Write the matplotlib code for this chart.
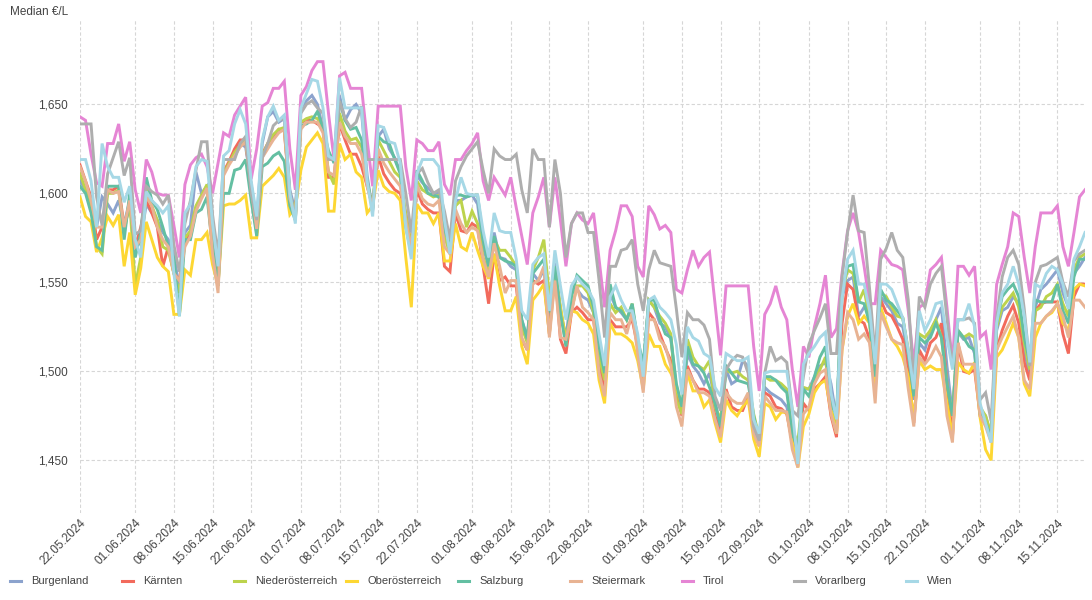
import numpy as np
import pandas as pd
import matplotlib
matplotlib.use("Agg")
import matplotlib.pyplot as plt
import matplotlib.dates as mdates
from matplotlib.lines import Line2D
from matplotlib.ticker import FuncFormatter

plt.rcParams['font.family'] = ['Liberation Sans', 'DejaVu Sans']

# daily median price per state, 22.05.2024 - 20.11.2024
dates = pd.date_range("2024-05-22", "2024-11-20", freq="D")

burgenland = [
    1.607, 1.602, 1.594, 1.581, 1.598, 1.594, 1.589, 1.596, 1.583, 1.596,
    1.568, 1.574, 1.594, 1.589, 1.585, 1.578, 1.574, 1.566, 1.546, 1.578,
    1.582, 1.612, 1.600, 1.604, 1.572, 1.552, 1.612, 1.617, 1.622, 1.628,
    1.626, 1.605, 1.585, 1.628, 1.643, 1.646, 1.640, 1.642, 1.602, 1.590,
    1.648, 1.652, 1.655, 1.650, 1.636, 1.620, 1.619, 1.655, 1.641, 1.647,
    1.650, 1.645, 1.610, 1.590, 1.632, 1.636, 1.625, 1.620, 1.612, 1.585,
    1.568, 1.610, 1.606, 1.603, 1.600, 1.600, 1.579, 1.570, 1.596, 1.596,
    1.598, 1.599, 1.594, 1.570, 1.559, 1.578, 1.564, 1.563, 1.559, 1.557,
    1.529, 1.519, 1.555, 1.551, 1.557, 1.529, 1.561, 1.534, 1.519, 1.544,
    1.546, 1.542, 1.540, 1.533, 1.510, 1.495, 1.544, 1.536, 1.533, 1.529,
    1.536, 1.516, 1.499, 1.540, 1.536, 1.527, 1.525, 1.518, 1.491, 1.476,
    1.510, 1.503, 1.499, 1.493, 1.499, 1.484, 1.467, 1.501, 1.493, 1.495,
    1.506, 1.503, 1.469, 1.460, 1.491, 1.488, 1.486, 1.484, 1.480, 1.465,
    1.452, 1.490, 1.490, 1.497, 1.503, 1.505, 1.493, 1.473, 1.542, 1.551,
    1.553, 1.531, 1.536, 1.533, 1.493, 1.542, 1.538, 1.534, 1.527, 1.525,
    1.508, 1.484, 1.516, 1.512, 1.523, 1.529, 1.536, 1.503, 1.476, 1.522,
    1.518, 1.519, 1.510, 1.478, 1.475, 1.463, 1.523, 1.534, 1.536, 1.542,
    1.538, 1.512, 1.497, 1.536, 1.546, 1.549, 1.553, 1.557, 1.544, 1.536,
    1.555, 1.559, 1.564]

kaernten = [
    1.616, 1.607, 1.598, 1.574, 1.581, 1.602, 1.602, 1.604, 1.581, 1.593,
    1.570, 1.581, 1.596, 1.589, 1.581, 1.559, 1.570, 1.555, 1.551, 1.572,
    1.578, 1.592, 1.598, 1.604, 1.568, 1.550, 1.612, 1.618, 1.625, 1.630,
    1.630, 1.600, 1.578, 1.622, 1.628, 1.632, 1.636, 1.635, 1.598, 1.588,
    1.640, 1.641, 1.641, 1.639, 1.637, 1.609, 1.609, 1.639, 1.630, 1.622,
    1.622, 1.615, 1.604, 1.593, 1.621, 1.611, 1.606, 1.602, 1.600, 1.589,
    1.570, 1.602, 1.594, 1.591, 1.589, 1.589, 1.559, 1.556, 1.589, 1.579,
    1.578, 1.583, 1.581, 1.559, 1.538, 1.566, 1.551, 1.553, 1.548, 1.548,
    1.518, 1.512, 1.551, 1.549, 1.551, 1.521, 1.557, 1.518, 1.510, 1.533,
    1.536, 1.533, 1.529, 1.529, 1.504, 1.490, 1.529, 1.525, 1.525, 1.525,
    1.529, 1.514, 1.495, 1.533, 1.529, 1.521, 1.513, 1.506, 1.488, 1.475,
    1.503, 1.495, 1.490, 1.490, 1.488, 1.475, 1.465, 1.490, 1.480, 1.478,
    1.478, 1.486, 1.467, 1.458, 1.488, 1.486, 1.480, 1.479, 1.476, 1.460,
    1.452, 1.482, 1.478, 1.490, 1.493, 1.497, 1.475, 1.463, 1.527, 1.549,
    1.546, 1.529, 1.527, 1.518, 1.488, 1.540, 1.533, 1.531, 1.525, 1.518,
    1.500, 1.471, 1.512, 1.506, 1.516, 1.519, 1.527, 1.493, 1.463, 1.516,
    1.500, 1.499, 1.501, 1.475, 1.471, 1.461, 1.512, 1.523, 1.531, 1.537,
    1.527, 1.505, 1.495, 1.534, 1.538, 1.539, 1.539, 1.539, 1.521, 1.510,
    1.542, 1.549, 1.549]

niederoesterreich = [
    1.611, 1.602, 1.593, 1.570, 1.566, 1.600, 1.600, 1.602, 1.578, 1.596,
    1.548, 1.564, 1.604, 1.593, 1.585, 1.570, 1.568, 1.555, 1.544, 1.575,
    1.579, 1.593, 1.599, 1.605, 1.569, 1.548, 1.611, 1.617, 1.623, 1.627,
    1.630, 1.604, 1.580, 1.621, 1.628, 1.633, 1.636, 1.637, 1.599, 1.588,
    1.640, 1.642, 1.643, 1.642, 1.637, 1.612, 1.605, 1.645, 1.635, 1.630,
    1.631, 1.626, 1.606, 1.592, 1.630, 1.624, 1.618, 1.612, 1.609, 1.588,
    1.570, 1.607, 1.602, 1.600, 1.598, 1.599, 1.576, 1.566, 1.593, 1.596,
    1.581, 1.590, 1.583, 1.564, 1.555, 1.574, 1.568, 1.568, 1.564, 1.559,
    1.525, 1.516, 1.557, 1.564, 1.574, 1.542, 1.559, 1.536, 1.518, 1.534,
    1.548, 1.548, 1.544, 1.533, 1.508, 1.495, 1.538, 1.533, 1.536, 1.529,
    1.538, 1.514, 1.499, 1.540, 1.536, 1.531, 1.527, 1.521, 1.484, 1.476,
    1.518, 1.508, 1.503, 1.501, 1.506, 1.480, 1.473, 1.501, 1.499, 1.500,
    1.497, 1.495, 1.476, 1.463, 1.497, 1.495, 1.495, 1.493, 1.490, 1.467,
    1.460, 1.491, 1.490, 1.495, 1.501, 1.508, 1.478, 1.471, 1.544, 1.557,
    1.555, 1.539, 1.546, 1.529, 1.495, 1.544, 1.542, 1.536, 1.531, 1.530,
    1.512, 1.486, 1.521, 1.519, 1.523, 1.529, 1.519, 1.493, 1.475, 1.523,
    1.519, 1.521, 1.519, 1.480, 1.475, 1.465, 1.525, 1.536, 1.540, 1.544,
    1.536, 1.516, 1.501, 1.534, 1.536, 1.542, 1.544, 1.549, 1.538, 1.531,
    1.557, 1.564, 1.566]

oberoesterreich = [
    1.598, 1.587, 1.584, 1.567, 1.575, 1.587, 1.582, 1.588, 1.559, 1.578,
    1.543, 1.558, 1.584, 1.574, 1.564, 1.559, 1.556, 1.532, 1.532, 1.557,
    1.554, 1.574, 1.574, 1.578, 1.560, 1.548, 1.593, 1.594, 1.594, 1.596,
    1.599, 1.575, 1.575, 1.604, 1.607, 1.610, 1.614, 1.609, 1.588, 1.592,
    1.613, 1.626, 1.630, 1.634, 1.628, 1.590, 1.590, 1.628, 1.619, 1.622,
    1.612, 1.609, 1.589, 1.593, 1.613, 1.604, 1.601, 1.600, 1.596, 1.564,
    1.536, 1.594, 1.589, 1.589, 1.583, 1.589, 1.562, 1.562, 1.583, 1.570,
    1.568, 1.578, 1.568, 1.559, 1.552, 1.566, 1.548, 1.534, 1.534, 1.542,
    1.514, 1.504, 1.540, 1.544, 1.549, 1.521, 1.553, 1.536, 1.515, 1.534,
    1.533, 1.529, 1.527, 1.521, 1.495, 1.482, 1.527, 1.521, 1.521, 1.519,
    1.516, 1.506, 1.490, 1.521, 1.514, 1.514, 1.504, 1.499, 1.492, 1.480,
    1.499, 1.489, 1.489, 1.480, 1.484, 1.471, 1.460, 1.484, 1.478, 1.475,
    1.480, 1.484, 1.462, 1.452, 1.482, 1.480, 1.473, 1.477, 1.477, 1.460,
    1.446, 1.469, 1.476, 1.488, 1.493, 1.495, 1.478, 1.465, 1.512, 1.531,
    1.538, 1.527, 1.531, 1.527, 1.493, 1.536, 1.527, 1.518, 1.514, 1.508,
    1.497, 1.473, 1.506, 1.501, 1.503, 1.501, 1.501, 1.482, 1.464, 1.505,
    1.501, 1.499, 1.505, 1.474, 1.456, 1.450, 1.508, 1.512, 1.519, 1.527,
    1.519, 1.493, 1.486, 1.519, 1.527, 1.531, 1.533, 1.538, 1.527, 1.523,
    1.546, 1.549, 1.548]

salzburg = [
    1.604, 1.600, 1.589, 1.570, 1.568, 1.604, 1.604, 1.604, 1.574, 1.600,
    1.564, 1.578, 1.609, 1.596, 1.591, 1.581, 1.570, 1.564, 1.531, 1.574,
    1.574, 1.589, 1.591, 1.598, 1.570, 1.548, 1.600, 1.600, 1.613, 1.614,
    1.619, 1.596, 1.576, 1.615, 1.617, 1.621, 1.623, 1.618, 1.593, 1.585,
    1.638, 1.639, 1.641, 1.646, 1.637, 1.624, 1.617, 1.652, 1.641, 1.636,
    1.637, 1.630, 1.607, 1.591, 1.632, 1.629, 1.628, 1.619, 1.611, 1.581,
    1.566, 1.613, 1.607, 1.600, 1.599, 1.598, 1.579, 1.572, 1.599, 1.599,
    1.598, 1.599, 1.599, 1.574, 1.559, 1.576, 1.564, 1.562, 1.561, 1.559,
    1.529, 1.518, 1.555, 1.559, 1.563, 1.533, 1.559, 1.533, 1.514, 1.542,
    1.554, 1.551, 1.548, 1.536, 1.514, 1.499, 1.549, 1.536, 1.534, 1.529,
    1.538, 1.518, 1.504, 1.540, 1.540, 1.529, 1.521, 1.519, 1.493, 1.480,
    1.514, 1.504, 1.503, 1.499, 1.491, 1.482, 1.469, 1.503, 1.499, 1.495,
    1.494, 1.493, 1.475, 1.461, 1.497, 1.497, 1.495, 1.491, 1.488, 1.465,
    1.456, 1.490, 1.486, 1.497, 1.508, 1.514, 1.482, 1.475, 1.546, 1.559,
    1.560, 1.539, 1.538, 1.527, 1.497, 1.546, 1.540, 1.538, 1.534, 1.530,
    1.510, 1.486, 1.519, 1.516, 1.519, 1.527, 1.519, 1.493, 1.475, 1.523,
    1.519, 1.514, 1.512, 1.476, 1.471, 1.463, 1.527, 1.542, 1.546, 1.549,
    1.542, 1.519, 1.505, 1.540, 1.539, 1.539, 1.539, 1.549, 1.534, 1.527,
    1.553, 1.563, 1.563]

steiermark = [
    1.615, 1.607, 1.596, 1.581, 1.581, 1.602, 1.600, 1.601, 1.581, 1.596,
    1.570, 1.574, 1.598, 1.593, 1.581, 1.574, 1.570, 1.555, 1.551, 1.570,
    1.576, 1.590, 1.597, 1.603, 1.566, 1.544, 1.610, 1.616, 1.621, 1.626,
    1.629, 1.603, 1.580, 1.620, 1.625, 1.630, 1.634, 1.636, 1.597, 1.586,
    1.636, 1.640, 1.640, 1.640, 1.634, 1.612, 1.610, 1.640, 1.632, 1.628,
    1.628, 1.622, 1.604, 1.592, 1.625, 1.617, 1.612, 1.608, 1.604, 1.585,
    1.569, 1.605, 1.597, 1.594, 1.593, 1.596, 1.570, 1.566, 1.591, 1.583,
    1.578, 1.581, 1.579, 1.563, 1.553, 1.572, 1.559, 1.544, 1.551, 1.551,
    1.519, 1.512, 1.549, 1.551, 1.559, 1.519, 1.551, 1.519, 1.518, 1.533,
    1.548, 1.536, 1.533, 1.529, 1.499, 1.486, 1.533, 1.529, 1.529, 1.521,
    1.533, 1.510, 1.488, 1.529, 1.529, 1.518, 1.514, 1.503, 1.480, 1.469,
    1.501, 1.495, 1.488, 1.488, 1.486, 1.473, 1.463, 1.488, 1.484, 1.482,
    1.482, 1.488, 1.465, 1.458, 1.486, 1.482, 1.478, 1.478, 1.477, 1.456,
    1.446, 1.476, 1.480, 1.493, 1.499, 1.501, 1.476, 1.465, 1.512, 1.533,
    1.529, 1.518, 1.521, 1.516, 1.482, 1.533, 1.525, 1.518, 1.516, 1.515,
    1.490, 1.469, 1.508, 1.504, 1.508, 1.514, 1.508, 1.475, 1.460, 1.516,
    1.504, 1.504, 1.504, 1.475, 1.469, 1.460, 1.512, 1.519, 1.525, 1.531,
    1.519, 1.495, 1.490, 1.527, 1.527, 1.531, 1.534, 1.538, 1.531, 1.519,
    1.540, 1.540, 1.536]

tirol = [
    1.643, 1.641, 1.622, 1.606, 1.604, 1.628, 1.628, 1.639, 1.618, 1.629,
    1.602, 1.589, 1.619, 1.612, 1.600, 1.599, 1.599, 1.582, 1.564, 1.605,
    1.616, 1.620, 1.622, 1.615, 1.600, 1.617, 1.634, 1.632, 1.644, 1.649,
    1.654, 1.608, 1.625, 1.649, 1.651, 1.659, 1.659, 1.663, 1.625, 1.602,
    1.655, 1.660, 1.669, 1.674, 1.674, 1.645, 1.619, 1.666, 1.668, 1.659,
    1.659, 1.659, 1.630, 1.604, 1.649, 1.649, 1.649, 1.649, 1.649, 1.615,
    1.596, 1.630, 1.628, 1.624, 1.624, 1.629, 1.605, 1.599, 1.619, 1.619,
    1.624, 1.628, 1.634, 1.607, 1.596, 1.609, 1.604, 1.599, 1.609, 1.592,
    1.576, 1.560, 1.589, 1.598, 1.609, 1.581, 1.609, 1.585, 1.559, 1.583,
    1.589, 1.585, 1.583, 1.589, 1.563, 1.536, 1.568, 1.579, 1.593, 1.593,
    1.587, 1.559, 1.553, 1.593, 1.588, 1.580, 1.582, 1.578, 1.546, 1.544,
    1.557, 1.568, 1.559, 1.564, 1.567, 1.538, 1.509, 1.548, 1.548, 1.548,
    1.548, 1.548, 1.514, 1.489, 1.532, 1.538, 1.548, 1.536, 1.529, 1.501,
    1.480, 1.514, 1.508, 1.525, 1.538, 1.554, 1.519, 1.524, 1.555, 1.579,
    1.589, 1.578, 1.559, 1.538, 1.538, 1.568, 1.564, 1.560, 1.559, 1.557,
    1.534, 1.504, 1.536, 1.538, 1.557, 1.560, 1.564, 1.536, 1.504, 1.559,
    1.559, 1.554, 1.559, 1.519, 1.522, 1.501, 1.549, 1.560, 1.570, 1.589,
    1.587, 1.564, 1.544, 1.570, 1.589, 1.589, 1.589, 1.593, 1.570, 1.559,
    1.578, 1.598, 1.602]

vorarlberg = [
    1.639, 1.639, 1.639, 1.598, 1.582, 1.611, 1.620, 1.629, 1.610, 1.620,
    1.577, 1.579, 1.604, 1.601, 1.599, 1.594, 1.599, 1.571, 1.556, 1.583,
    1.596, 1.613, 1.629, 1.629, 1.588, 1.565, 1.619, 1.619, 1.619, 1.628,
    1.632, 1.600, 1.585, 1.620, 1.628, 1.638, 1.641, 1.642, 1.600, 1.585,
    1.645, 1.650, 1.652, 1.648, 1.645, 1.619, 1.619, 1.652, 1.642, 1.637,
    1.640, 1.649, 1.619, 1.619, 1.619, 1.619, 1.619, 1.619, 1.619, 1.600,
    1.578, 1.611, 1.614, 1.606, 1.600, 1.602, 1.590, 1.574, 1.607, 1.615,
    1.621, 1.625, 1.629, 1.613, 1.600, 1.625, 1.621, 1.619, 1.619, 1.622,
    1.602, 1.589, 1.625, 1.619, 1.619, 1.581, 1.619, 1.600, 1.564, 1.583,
    1.589, 1.589, 1.578, 1.578, 1.551, 1.519, 1.559, 1.559, 1.568, 1.569,
    1.574, 1.549, 1.534, 1.557, 1.568, 1.561, 1.560, 1.559, 1.535, 1.508,
    1.533, 1.529, 1.529, 1.526, 1.518, 1.486, 1.478, 1.501, 1.506, 1.509,
    1.508, 1.499, 1.469, 1.461, 1.499, 1.514, 1.506, 1.508, 1.505, 1.478,
    1.475, 1.497, 1.515, 1.523, 1.530, 1.538, 1.510, 1.510, 1.553, 1.578,
    1.599, 1.579, 1.578, 1.546, 1.508, 1.563, 1.569, 1.578, 1.568, 1.564,
    1.540, 1.493, 1.542, 1.536, 1.549, 1.555, 1.559, 1.530, 1.503, 1.529,
    1.529, 1.530, 1.527, 1.484, 1.488, 1.472, 1.530, 1.553, 1.564, 1.568,
    1.560, 1.535, 1.503, 1.550, 1.559, 1.560, 1.562, 1.564, 1.550, 1.542,
    1.562, 1.566, 1.568]

wien = [
    1.619, 1.619, 1.607, 1.581, 1.628, 1.615, 1.609, 1.609, 1.595, 1.604,
    1.574, 1.564, 1.601, 1.596, 1.593, 1.589, 1.593, 1.555, 1.531, 1.589,
    1.594, 1.615, 1.619, 1.618, 1.583, 1.559, 1.621, 1.624, 1.639, 1.647,
    1.639, 1.607, 1.587, 1.630, 1.643, 1.649, 1.641, 1.644, 1.600, 1.583,
    1.648, 1.656, 1.664, 1.663, 1.648, 1.621, 1.619, 1.665, 1.648, 1.648,
    1.648, 1.648, 1.607, 1.587, 1.638, 1.637, 1.629, 1.628, 1.617, 1.581,
    1.563, 1.611, 1.619, 1.619, 1.619, 1.615, 1.585, 1.566, 1.596, 1.609,
    1.600, 1.599, 1.599, 1.579, 1.564, 1.589, 1.579, 1.578, 1.578, 1.563,
    1.534, 1.529, 1.560, 1.564, 1.566, 1.534, 1.568, 1.548, 1.529, 1.548,
    1.553, 1.549, 1.546, 1.540, 1.521, 1.503, 1.542, 1.548, 1.540, 1.534,
    1.534, 1.521, 1.497, 1.540, 1.542, 1.536, 1.533, 1.529, 1.515, 1.487,
    1.525, 1.519, 1.517, 1.510, 1.508, 1.491, 1.486, 1.510, 1.508, 1.506,
    1.506, 1.508, 1.473, 1.465, 1.499, 1.500, 1.500, 1.500, 1.500, 1.478,
    1.448, 1.504, 1.510, 1.514, 1.519, 1.522, 1.488, 1.473, 1.541, 1.563,
    1.568, 1.549, 1.549, 1.534, 1.504, 1.549, 1.549, 1.546, 1.538, 1.530,
    1.512, 1.490, 1.534, 1.523, 1.529, 1.538, 1.539, 1.519, 1.501, 1.529,
    1.529, 1.538, 1.525, 1.482, 1.471, 1.460, 1.527, 1.544, 1.549, 1.559,
    1.549, 1.531, 1.505, 1.549, 1.547, 1.555, 1.559, 1.557, 1.549, 1.535,
    1.563, 1.570, 1.578]

states = ["Burgenland", "Kärnten", "Niederösterreich", "Oberösterreich", "Salzburg",
          "Steiermark", "Tirol", "Vorarlberg", "Wien"]
series = [burgenland, kaernten, niederoesterreich, oberoesterreich, salzburg,
          steiermark, tirol, vorarlberg, wien]
colors = ["#8ca3cd", "#f26a5c", "#bcd34c", "#fdd733", "#63bfa2",
          "#e8b393", "#e585d4", "#aeaeae", "#a6d8e6"]

tick_dates = ["2024-05-22", "2024-06-01", "2024-06-08", "2024-06-15", "2024-06-22",
              "2024-07-01", "2024-07-08", "2024-07-15", "2024-07-22", "2024-08-01",
              "2024-08-08", "2024-08-15", "2024-08-22", "2024-09-01", "2024-09-08",
              "2024-09-15", "2024-09-22", "2024-10-01", "2024-10-08", "2024-10-15",
              "2024-10-22", "2024-11-01", "2024-11-08", "2024-11-15"]
y_ticks = [1.45, 1.50, 1.55, 1.60, 1.65]

text_color = "#444444"

fig = plt.figure(figsize=(10.92, 6.0), dpi=100)
ax = fig.add_axes([80 / 1092, 1 - 513 / 600, (1085 - 80) / 1092, (513 - 20) / 600])

for name, vals, c in zip(states, series, colors):
    ax.plot(dates, vals, color=c, lw=2.1, label=name, solid_joinstyle="miter")

ax.set_xlim(dates[0], dates[-1])
ax.set_ylim(1.4204, 1.6974)

ax.set_xticks(pd.to_datetime(tick_dates))
ax.xaxis.set_major_formatter(mdates.DateFormatter("%d.%m.%Y"))
ax.set_yticks(y_ticks)
ax.yaxis.set_major_formatter(FuncFormatter(lambda v, p: f"{v:.3f}".replace(".", ",")))

ax.grid(True, color="#d6d6d6", linestyle=(0, (3, 2)), linewidth=0.8)
ax.set_axisbelow(True)
for s in ax.spines.values():
    s.set_visible(False)
ax.tick_params(axis="both", length=0, labelsize=8.5, labelcolor=text_color)
ax.tick_params(axis="y", pad=9)
ax.tick_params(axis="x", pad=3)
for lbl in ax.get_xticklabels():
    lbl.set_rotation(45)
    lbl.set_ha("right")
    lbl.set_rotation_mode("anchor")

fig.text(10 / 1092, 1 - 12 / 600, "Median €/L", fontsize=8.5, color=text_color,
         ha="left", va="center")

# legend row along the bottom
ly = 1 - 581 / 600
for i, (name, c) in enumerate(zip(states, colors)):
    x0 = (10 + 112 * i) / 1092
    fig.add_artist(Line2D([x0, x0 + 11 / 1092], [ly, ly], transform=fig.transFigure,
                          color=c, lw=2.2))
    fig.text((31 + 112 * i) / 1092, ly, name, fontsize=8, color=text_color,
             ha="left", va="center")

fig.savefig("out.png", dpi=100)
plt.close(fig)
